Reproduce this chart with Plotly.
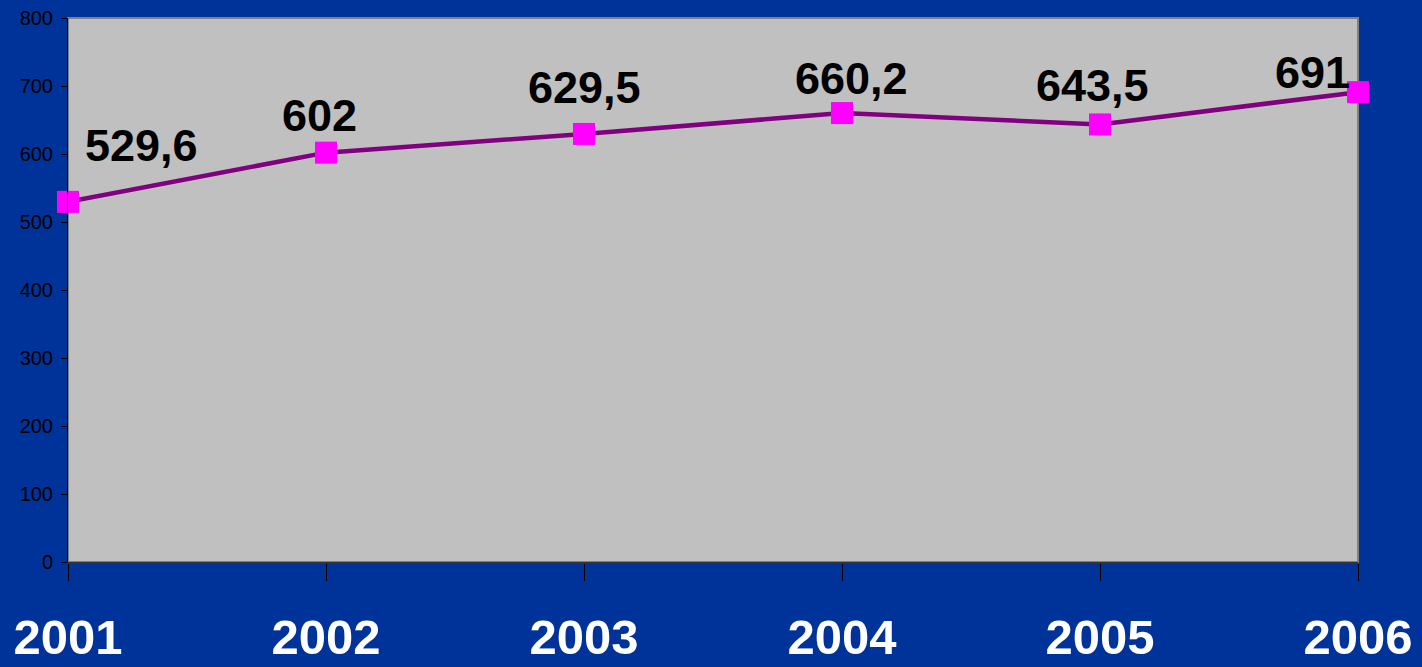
import plotly.graph_objects as go

years = ["2001", "2002", "2003", "2004", "2005", "2006"]
values = [529.6, 602, 629.5, 660.2, 643.5, 691]
y_ticks = [0, 100, 200, 300, 400, 500, 600, 700, 800]

# pixel offsets of each value label from its marker
label_dx = [73, -7, 0, 9, -8, -46]
label_dy = [56, 37, 46, 35, 39, 20]


def fmt(v):
    s = f"{v:g}"
    return s.replace(".", ",")


fig = go.Figure()
fig.add_trace(go.Scatter(
    x=years, y=values,
    mode="lines+markers",
    line=dict(color="#800080", width=4.5),
    marker=dict(symbol="square", size=22, color="#FF00FF",
                line=dict(width=0)),
    cliponaxis=False,
    hoverinfo="skip",
))

for i, v in enumerate(values):
    fig.add_annotation(
        x=i, y=v, xref="x", yref="y",
        text=f"<b>{fmt(v)}</b>",
        showarrow=False,
        xanchor="center", yanchor="middle",
        xshift=label_dx[i], yshift=label_dy[i],
        font=dict(family="Liberation Sans, Arial", size=45, color="black"),
    )

# grey frame on the top and right of the plot area
fig.add_shape(type="rect", xref="paper", yref="paper", x0=0, x1=1, y0=0, y1=1,
              line=dict(color="#808080", width=2), layer="below")

fig.update_layout(
    width=1422, height=667,
    margin=dict(l=68, r=64, t=18, b=105),
    paper_bgcolor="#003399",
    plot_bgcolor="#C0C0C0",
    showlegend=False,
    xaxis=dict(
        type="category", range=[0, 5], automargin=False,
        showgrid=False, zeroline=False,
        showline=True, linecolor="#333333", linewidth=2,
        ticks="outside", ticklen=17, tickcolor="#000000", tickwidth=1,
        tickfont=dict(family="Liberation Sans, Arial", size=49, color="white"),
        ticklabelstandoff=14,
        tickprefix="<b>", ticksuffix="</b>",
    ),
    yaxis=dict(
        range=[0, 800], tickvals=y_ticks, automargin=False,
        showgrid=False, zeroline=False,
        showline=True, linecolor="#000000", linewidth=1,
        ticks="outside", ticklen=6, tickcolor="#000000",
        tickfont=dict(family="Liberation Sans, Arial", size=20, color="black"),
        ticklabelstandoff=4,
    ),
)

fig.write_html("out.html")
